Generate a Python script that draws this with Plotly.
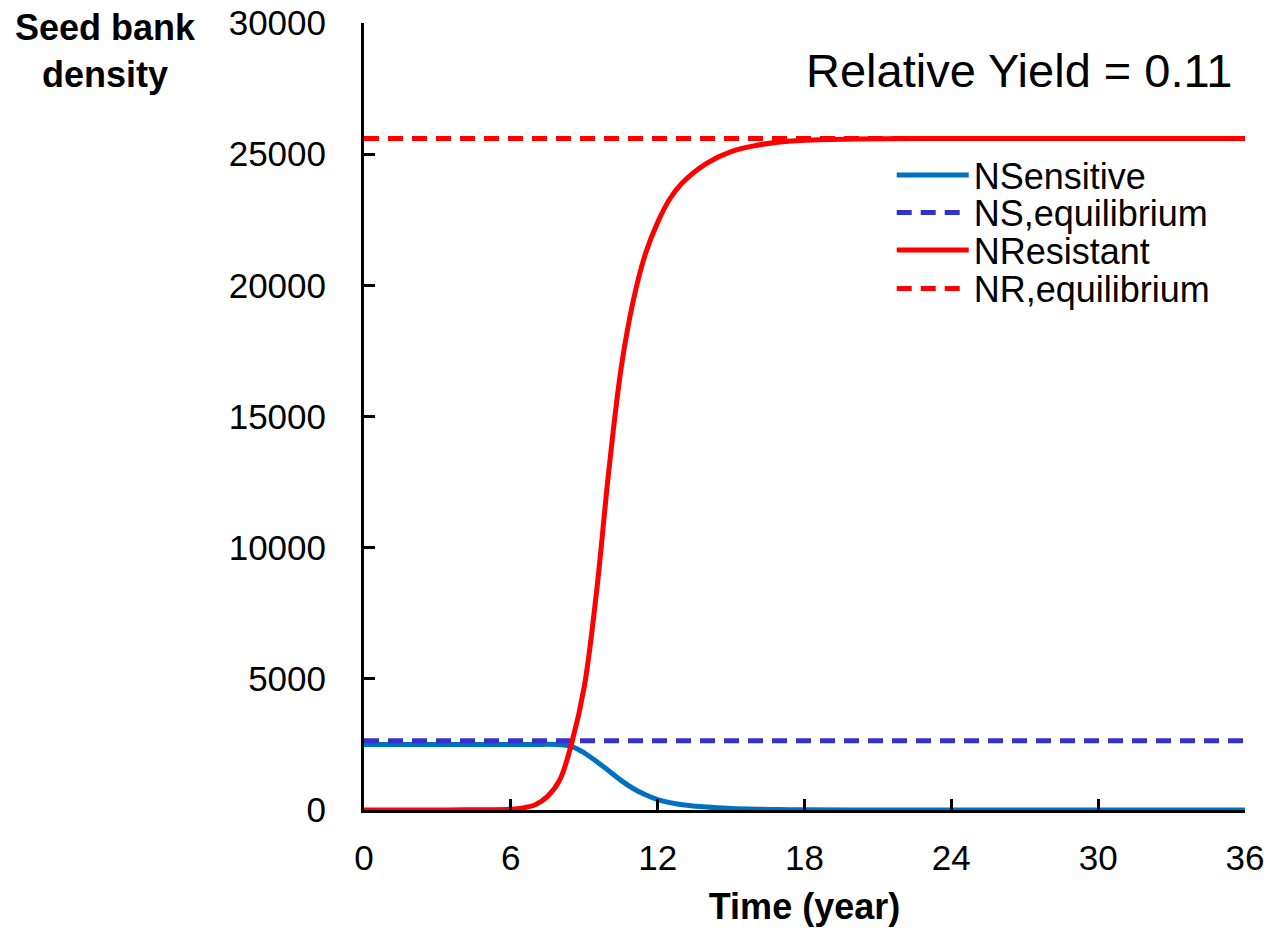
import plotly.graph_objects as go

# Time points (years) and seed bank densities
t_res = [0, 1, 2, 3, 4, 5, 6, 6.5, 7, 7.5, 8, 8.5, 9, 9.5, 10, 10.5, 11, 11.5, 12, 12.5, 13, 14, 15, 16, 17, 18, 20, 24, 28, 32, 36]
n_resistant = [0, 0, 1, 2, 5, 12, 30, 80, 200, 520, 1150, 2600, 4700, 8300, 12900, 16800, 19400, 21200, 22400, 23300, 23900, 24650, 25100, 25330, 25460, 25530, 25580, 25600, 25600, 25600, 25600]

t_sen = [0, 2, 4, 6, 7, 8, 8.5, 9, 9.5, 10, 10.5, 11, 11.5, 12, 12.5, 13, 14, 15, 16, 17, 18, 20, 24, 28, 32, 36]
n_sensitive = [2500, 2500, 2500, 2500, 2500, 2490, 2420, 2180, 1850, 1500, 1130, 820, 580, 400, 280, 200, 110, 60, 32, 16, 8, 2, 0, 0, 0, 0]

t_eq = [0, 36]
ns_equilibrium = [2640, 2640]
nr_equilibrium = [25600, 25600]

x_ticks = [0, 6, 12, 18, 24, 30, 36]
y_ticks = [0, 5000, 10000, 15000, 20000, 25000, 30000]

series_names = ["NSensitive", "NS,equilibrium", "NResistant", "NR,equilibrium"]

FONT = "Liberation Sans, Arial, sans-serif"

fig = go.Figure()
fig.add_trace(go.Scatter(x=t_sen, y=n_sensitive, mode="lines", name=series_names[0], legend="legend",
                         line=dict(color="#0070C0", width=5, shape="spline")))
fig.add_trace(go.Scatter(x=t_eq, y=ns_equilibrium, mode="lines", name=series_names[1], legend="legend2",
                         line=dict(color="#3333CC", width=5, dash="15px,9px")))
fig.add_trace(go.Scatter(x=t_res, y=n_resistant, mode="lines", name=series_names[2], legend="legend3",
                         line=dict(color="#FF0000", width=5, shape="spline")))
fig.add_trace(go.Scatter(x=t_eq, y=nr_equilibrium, mode="lines", name=series_names[3], legend="legend4",
                         line=dict(color="#FF0000", width=5, dash="15px,9px")))

# one legend box per entry, so that the rows sit as tightly as in the reference
row_centres_px = [175, 212.5, 250, 288.5]   # page pixels
plot_top, plot_bottom = 23, 810
legend_common = dict(x=0.599, xanchor="left", yanchor="middle",
                     font=dict(family=FONT, size=36, color="black"),
                     bgcolor="rgba(0,0,0,0)", itemwidth=72)
legends = {}
for i, yc in enumerate(row_centres_px):
    key = "legend" if i == 0 else f"legend{i + 1}"
    legends[key] = dict(legend_common, y=(plot_bottom - yc) / (plot_bottom - plot_top))

fig.update_layout(
    width=1274, height=928,
    margin=dict(l=356, r=37, t=15, b=126, autoexpand=False),
    paper_bgcolor="white", plot_bgcolor="white",
    font=dict(family=FONT, size=35, color="black"),
    showlegend=True,
    annotations=[
        dict(text="Relative Yield = 0.11", xref="paper", yref="paper", x=0.988, y=0.94,
             xanchor="right", yanchor="middle", showarrow=False,
             font=dict(family=FONT, size=47, color="black")),
        dict(text="<b>Seed bank<br>density</b>", xref="paper", yref="paper", x=-0.293, y=0.964,
             xanchor="center", yanchor="middle", showarrow=False, align="center",
             font=dict(family=FONT, size=36, color="black")),
    ],
    **legends,
)

fig.update_xaxes(
    range=[0, 36], tickvals=x_ticks, ticktext=[str(v) for v in x_ticks],
    showgrid=False, zeroline=False, showline=True, linecolor="black", linewidth=3,
    ticks="inside", ticklen=11, tickwidth=3, tickcolor="black",
    ticklabelstandoff=15, automargin=False, ticklabeloverflow="allow",
    tickfont=dict(family=FONT, size=35, color="black"),
    title=dict(text="<b>Time (year)</b>", font=dict(family=FONT, size=36, color="black"), standoff=18),
)
fig.update_yaxes(
    range=[0, 30000], tickvals=y_ticks, ticktext=[str(v) for v in y_ticks],
    showgrid=False, zeroline=False, showline=True, linecolor="black", linewidth=3,
    ticks="inside", ticklen=11, tickwidth=3, tickcolor="black",
    ticklabelstandoff=28, automargin=False, ticklabeloverflow="allow",
    tickfont=dict(family=FONT, size=35, color="black"),
)

fig.write_html("out.html")
